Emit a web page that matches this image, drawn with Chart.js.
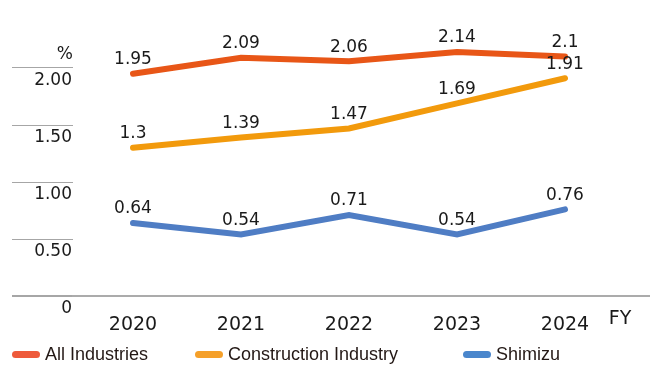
<!DOCTYPE html>
<html>
<head>
<meta charset="utf-8">
<script src="https://cdn.jsdelivr.net/npm/chart.js@4/dist/chart.umd.min.js"></script>
<style>
  html, body { margin: 0; padding: 0; background: #fff; }
  #wrap { position: relative; width: 650px; height: 378px; overflow: hidden; }
  #c { position: absolute; left: 0; top: 0; }
  .lg { position: absolute; top: 343px; height: 22px; display: flex; align-items: center;
        font-family: "Liberation Sans", Arial, sans-serif; font-size: 18px; color: #231815; white-space: nowrap; }
  .lg i { display: inline-block; width: 28px; height: 7px; border-radius: 4px; margin-right: 5px; }
</style>
</head>
<body>
<div id="wrap">
  <canvas id="c" width="650" height="378"></canvas>
  <div id="legend"></div>
</div>
<script>
// ---- data ----
const years = [2020, 2021, 2022, 2023, 2024];
const allIndustries = [1.95, 2.09, 2.06, 2.14, 2.1];
const constructionIndustry = [1.3, 1.39, 1.47, 1.69, 1.91];
const shimizu = [0.64, 0.54, 0.71, 0.54, 0.76];
const seriesNames = ["All Industries", "Construction Industry", "Shimizu"];
const yTickValues = [0, 0.5, 1, 1.5, 2];
const yTickLabels = ["0", "0.50", "1.00", "1.50", "2.00"];
const yUnit = "%";
const xUnit = "FY";

const lineColors = ["#E85617", "#F29A0C", "#4F7DC4"];
const legendColors = ["#EE5A3B", "#F5A02A", "#4A86CC"];
const legendLeft = [12, 195, 463];

const toPoints = arr => arr.map((v, i) => ({ x: years[i], y: v }));

const labelPlugin = {
  id: 'valueLabels',
  afterDatasetsDraw(chart) {
    const ctx = chart.ctx;
    ctx.save();
    ctx.font = '17px "DejaVu Sans"';
    ctx.fillStyle = '#1a1a1a';
    ctx.textAlign = 'center';
    ctx.textBaseline = 'middle';
    chart.data.datasets.forEach((ds, di) => {
      const meta = chart.getDatasetMeta(di);
      meta.data.forEach((pt, i) => {
        ctx.fillText(String(ds.data[i].y), pt.x, pt.y - 14);
      });
    });
    ctx.restore();
  }
};

const unitPlugin = {
  id: 'units',
  afterDraw(chart) {
    const ctx = chart.ctx;
    const ys = chart.scales.y, xs = chart.scales.x;
    ctx.save();
    ctx.fillStyle = '#1a1a1a';
    ctx.textBaseline = 'middle';
    ctx.font = '17px "DejaVu Sans"';
    ctx.textAlign = 'right';
    ctx.fillText(yUnit, ys.right, ys.getPixelForValue(2) - 13);
    ctx.font = '19px "DejaVu Sans"';
    ctx.textAlign = 'center';
    ctx.fillText(xUnit, chart.chartArea.right - 30, xs.top + 23);
    ctx.restore();
  }
};

Chart.defaults.font.family = '"DejaVu Sans"';

new Chart(document.getElementById('c'), {
  type: 'line',
  data: {
    datasets: [allIndustries, constructionIndustry, shimizu].map((arr, i) => ({
      label: seriesNames[i],
      data: toPoints(arr),
      borderColor: lineColors[i],
      backgroundColor: lineColors[i],
      borderWidth: 6,
      borderCapStyle: 'round',
      borderJoinStyle: 'miter',
      pointRadius: 0,
      tension: 0,
      fill: false
    }))
  },
  options: {
    responsive: false,
    animation: false,
    layout: { padding: { left: 12, right: 0, top: 11, bottom: 42 } },
    plugins: { legend: { display: false }, tooltip: { enabled: false } },
    scales: {
      x: {
        type: 'linear',
        min: 2019.4444,
        max: 2024.787,
        afterBuildTicks: s => { s.ticks = years.map(v => ({ value: v })); },
        afterFit: s => { s.height = 40; },
        grid: { display: false, drawTicks: false },
        border: { display: true, color: '#ababab', width: 2 },
        ticks: {
          padding: 18,
          font: { size: 19 },
          color: '#1a1a1a',
          maxRotation: 0,
          autoSkip: false,
          callback: v => String(v)
        }
      },
      y: {
        min: 0,
        max: 2.5,
        afterBuildTicks: s => { s.ticks = yTickValues.map(v => ({ value: v })); },
        afterFit: s => { s.width = 61; },
        border: { display: false },
        grid: {
          drawOnChartArea: false,
          drawTicks: true,
          tickLength: 61,
          color: '#a6a6a6',
          lineWidth: c => (c.tick && c.tick.value === 0 ? 2 : 1)
        },
        ticks: {
          padding: -60,
          labelOffset: 13,
          font: { size: 17 },
          color: '#1a1a1a',
          callback: v => yTickLabels[yTickValues.indexOf(v)]
        }
      }
    }
  },
  plugins: [labelPlugin, unitPlugin]
});

// HTML legend built from the series
const lg = document.getElementById('legend');
seriesNames.forEach((name, i) => {
  const d = document.createElement('div');
  d.className = 'lg';
  d.style.left = legendLeft[i] + 'px';
  const m = document.createElement('i');
  m.style.background = legendColors[i];
  d.appendChild(m);
  d.appendChild(document.createTextNode(name));
  lg.appendChild(d);
});
</script>
</body>
</html>
